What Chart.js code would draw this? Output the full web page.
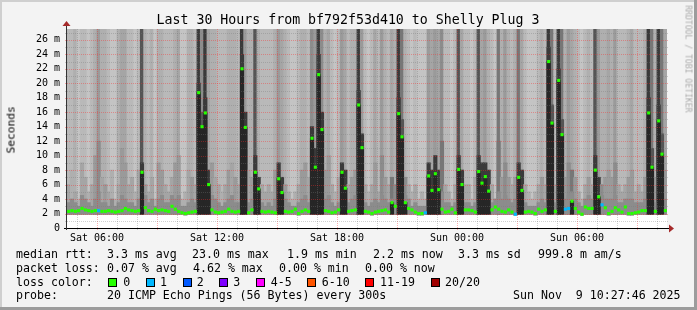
<!DOCTYPE html>
<html><head><meta charset="utf-8">
<script src="https://cdn.jsdelivr.net/npm/chart.js@4/dist/chart.umd.min.js"></script>
<style>
html,body{margin:0;padding:0;background:#f3f3f3;}
#wrap{position:relative;width:697px;height:310px;overflow:hidden;font-family:'DejaVu Sans Mono',monospace;color:#000;}
#c{position:absolute;left:0;top:0;}
.t{position:absolute;white-space:pre;line-height:13px;font-size:11.6px;color:#000;}
.box{position:absolute;width:7px;height:7px;border:1px solid #000;}
</style></head><body>
<div id="wrap"><canvas id="c" width="697" height="310"></canvas></div>
<script>
// ---------------- data ----------------
// 180 bins of 10 minutes, starting Sat 04:30 (30 hours)
const median = [
2.3,2.4,2.3,2.4,2.7,2.5,2.4,2.3,2.4,2.4,2.3,2.3,2.4,2.3,2.2,2.3,2.4,2.7,2.5,2.4,2.3,2.4,7.7,2.8,2.4,2.3,2.6,2.4,2.5,2.4,
2.3,3.0,2.6,2.3,2.1,2.0,2.1,2.2,2.3,18.7,14.0,15.9,6.0,2.5,2.2,2.1,2.2,2.3,2.6,2.3,2.2,2.3,22.0,13.9,2.1,2.5,7.7,5.4,2.3,2.2,
2.3,2.2,2.1,6.8,4.9,2.3,2.2,2.3,2.6,2.0,2.3,2.5,2.3,12.4,8.4,21.2,13.6,2.4,2.3,2.1,2.2,2.5,7.7,5.5,2.3,2.4,2.5,17.0,11.1,2.3,
2.2,2.0,2.2,2.3,2.4,2.5,2.2,3.5,3.0,15.8,12.6,3.5,2.7,2.5,2.2,2.0,2.0,2.1,7.2,5.2,7.5,5.3,2.6,2.2,2.3,2.6,2.1,8.1,6.0,2.5,
2.5,2.4,2.2,7.8,6.2,7.1,5.1,2.5,2.9,2.6,2.3,2.2,2.5,2.2,1.9,7.0,5.2,2.2,2.3,2.2,2.0,2.6,2.3,2.5,23.0,14.5,2.3,20.4,12.9,2.6,
2.7,3.7,2.7,2.2,1.9,2.9,2.7,2.7,8.0,4.3,3.2,2.8,2.0,2.3,2.8,2.5,2.2,2.9,2.0,2.0,2.1,2.2,2.4,2.4,15.9,8.4,2.3,14.8,10.2,2.4];
const minPing = [
1.9,1.9,1.9,1.9,1.9,1.9,1.9,1.9,1.9,1.9,1.9,1.9,1.9,1.9,1.9,1.9,1.9,1.9,1.9,1.9,1.9,1.9,1.9,1.9,1.9,1.9,1.9,1.9,1.9,1.9,
1.9,1.9,1.9,1.9,1.9,1.8,1.9,1.9,1.9,1.9,1.9,1.9,1.9,1.9,1.9,1.9,1.9,1.9,1.9,1.9,1.9,1.9,1.9,1.9,1.9,1.9,1.9,1.9,1.9,1.9,
1.9,1.9,1.9,1.9,1.9,1.9,1.9,1.9,1.9,1.8,1.9,1.9,1.9,1.9,1.9,1.9,1.9,1.9,1.9,1.9,1.9,1.9,1.9,1.9,1.9,1.9,1.9,1.9,1.9,1.9,
1.9,1.8,1.9,1.9,1.9,1.9,1.9,1.9,1.9,1.9,1.9,1.9,1.9,1.9,1.9,1.8,1.8,1.9,1.9,1.9,1.9,1.9,1.9,1.9,1.9,1.9,1.9,1.9,1.9,1.9,
1.9,1.9,1.9,1.9,1.9,1.9,1.9,1.9,1.9,1.9,1.9,1.9,1.9,1.9,1.8,1.9,1.9,1.9,1.9,1.9,1.8,1.9,1.9,1.9,1.9,1.9,1.9,1.9,1.9,1.9,
1.9,1.9,1.9,1.9,1.8,1.9,1.9,1.9,1.9,1.9,1.9,1.9,1.8,1.9,1.9,1.9,1.9,1.9,1.8,1.8,1.9,1.9,1.9,1.9,1.9,1.9,1.9,1.9,1.9,1.9];
// pings-above-top level (0 light .. 10 darkest)
const topShade = [
2,2,3,1,2,2,1,2,3,5,3,3,2,1,1,3,4,4,2,2,1,2,8,3,2,3,1,3,3,2,
2,2,3,4,1,1,3,3,2,9,6,9,4,3,3,2,2,2,3,3,3,2,9,5,3,3,8,3,2,2,
2,2,3,5,4,3,2,1,1,2,3,3,2,6,5,9,6,3,4,2,1,2,5,4,2,3,3,9,5,2,
1,2,4,2,5,3,2,4,3,9,7,3,2,1,2,1,1,1,5,4,5,4,6,2,2,1,2,8,4,2,
2,1,2,8,4,5,3,2,1,7,3,5,3,2,3,7,4,2,1,1,1,2,3,2,9,7,2,9,7,3,
5,4,3,2,1,2,3,2,8,5,3,3,4,3,5,2,2,2,3,4,2,2,2,3,9,7,3,9,7,4];
const midTop = [
6,8,5,4,9,7,5,6,10,12,7,6,5,8,4,6,11,9,6,7,5,8,9,6,5,7,4,9,8,6,
5,7,9,10,4,5,8,7,6,20,16,18,8,9,7,6,5,6,8,9,7,6,24,16,8,7,10,7,6,5,
6,5,8,9,7,6,5,4,5,6,8,9,7,14,11,24,16,8,10,6,5,7,9,8,6,7,8,19,13,6,
5,6,9,5,10,7,6,7,6,18,15,7,6,5,6,4,5,4,9,8,10,8,12,6,5,4,6,10,8,6,
6,4,7,10,9,9,8,6,4,12,7,9,7,6,7,9,8,6,5,4,5,6,7,6,25,17,6,22,15,7,
9,8,7,5,4,6,7,6,10,7,6,7,8,7,9,6,5,6,7,8,5,6,5,7,18,11,7,17,13,8];
const midShade = [
4,3,4,3,4,4,3,4,5,6,4,5,4,3,3,4,5,5,4,4,3,4,9,5,4,4,3,5,5,4,
4,4,5,5,3,3,4,5,4,9,8,9,9,5,4,4,3,4,5,4,5,4,9,9,4,5,9,9,4,4,
4,4,5,9,9,5,4,3,3,4,5,5,4,9,9,9,9,5,5,4,3,4,9,9,4,5,5,9,9,4,
3,4,5,4,6,5,4,7,6,9,8,6,4,3,4,3,3,3,9,9,9,9,7,4,4,3,4,9,9,4,
4,3,4,9,9,9,9,4,3,7,5,6,5,4,5,9,9,4,3,3,3,4,5,4,9,8,4,9,8,5,
6,7,5,4,3,4,5,4,9,9,6,5,5,5,6,4,4,4,5,5,4,4,4,5,9,8,5,9,8,5];
const lowTop = [
3.5,4,3.5,3,4.5,4,3.5,3,4,5,3.5,3.5,3,4,3,3.5,4.5,4,3.5,3.5,3,4,4,4.5,3.5,4,3,4,4.5,3.5,
3.5,4.5,4,4.5,3,3,3.5,4,3.5,4,4,4,4,4.5,4,3.5,3,3.5,4,4.5,3.5,3.5,4,4,3.5,4,4,4,3.5,3,
3.5,3,4,4,4,4,3.5,3,3,3.5,4,4.5,3.5,4,4,4,4,4,4.5,3.5,3,3.5,4,4,3.5,4,4.5,4,4,3.5,
3,3.5,4,3.5,4.5,4,3.5,4,4,4,4,4.5,4,3,3.5,3,3,3,4,4,4,4,5,3.5,3.5,3,3.5,4,4,3.5,
3.5,3,3.5,4,4,4,4,3.5,4,5,4,4.5,4,3.5,4,4,4,3.5,3,3,3,3.5,4,3.5,4,4,3.5,4,4,4,
4.5,5,4,3.5,3,4,4.5,4,4,4.5,4.5,4,4,4,4.5,3.5,3.5,4,4,4,3.5,3.5,3.5,4,4,4,3.5,4,4,4];
const lossOneBins = [9, 107, 134, 149, 150, 160];
const tickMinutes = [90, 450, 810, 1170, 1530];
const timeLabels = ['Sat 06:00','Sat 12:00','Sat 18:00','Sun 00:00','Sun 06:00'];
const yTicks = [0,2,4,6,8,10,12,14,16,18,20,22,24,26];
const titleText = 'Last 30 Hours from bf792f53d410 to Shelly Plug 3';
const rttStats = ['median rtt:','3.3 ms avg','23.0 ms max','1.9 ms min','2.2 ms now','3.3 ms sd','999.8 m am/s'];
const lossStats = ['packet loss:','0.07 % avg','4.62 % max','0.00 % min','0.00 % now'];
const lossLegend = [['0','#26ff00'],['1','#00b8ff'],['2','#0059ff'],['3','#7e00ff'],['4-5','#ff00ff'],['6-10','#ff5500'],['11-19','#ff0000'],['20/20','#a00000']];
const probeRow = ['probe:','20 ICMP Echo Pings (56 Bytes) every 300s','Sun Nov  9 10:27:46 2025'];

// ---------------- style / layout ----------------
const palette = ['#cecece','#c4c4c4','#b9b9b9','#afafaf','#a5a5a5','#9a9a9a','#8c8c8c','#777777','#555555','#3a3a3a','#262626'];
const yMax = 27.5, xMax = 1800;
const FONT = "'DejaVu Sans Mono', monospace";

const wrap = document.getElementById('wrap');
function addText(txt, x, y, extra) {
  const d = document.createElement('div');
  d.className = 't'; d.textContent = txt;
  d.style.left = x + 'px'; d.style.top = y + 'px';
  if (extra) Object.assign(d.style, extra);
  wrap.appendChild(d); return d;
}
addText(titleText, 348, 19, {fontSize:'13.25px', transform:'translate(-50%,-50%)'});
addText('Seconds', 5, 120.5, {fontSize:'11.2px', transformOrigin:'50% 50%', transform:'rotate(-90deg)', width:'52px', height:'13px', marginLeft:'-20px'});
addText('RRDTOOL / TOBI OETIKER', 688, 59, {fontSize:'8.1px', color:'#ababab', transform:'translate(-50%,-50%) rotate(90deg)'});
const rowY = [248, 261.5, 275.5, 289];
const rttX = [16, 107, 192, 287, 373, 458, 538];
rttStats.forEach((s,i)=>addText(s, rttX[i], rowY[0]));
const lossX = [16, 107, 193, 279, 365];
lossStats.forEach((s,i)=>addText(s, lossX[i], rowY[1]));
addText('loss color:', 16, rowY[2]);
const boxX = [108, 145.5, 182.5, 219, 256, 307, 365, 430.5];
const boxTxtX = [123.3, 160, 196.7, 233.3, 270.7, 321.7, 380, 445];
lossLegend.forEach(([lab,col],i)=>{
  const b = document.createElement('div'); b.className='box';
  b.style.left = boxX[i]+'px'; b.style.top = '278px'; b.style.background = col;
  wrap.appendChild(b);
  addText(lab, boxTxtX[i], rowY[2]);
});
const probeX = [16, 107, 513];
probeRow.forEach((s,i)=>addText(s, probeX[i], rowY[3]));

// ---------------- chart ----------------
const xs = median.map((_, i) => i * 10 + 5);
const barOpts = {grouped:false, barPercentage:1, categoryPercentage:1, borderWidth:0, inflateAmount:0.4};
const medianColors = median.map((_, i) => lossOneBins.includes(i) ? lossLegend[1][1] : lossLegend[0][1]);

const frame = {
  id: 'frame',
  beforeDraw(chart) {
    const {ctx, chartArea:a} = chart;
    ctx.save();
    ctx.fillStyle = '#f3f3f3'; ctx.fillRect(0,0,697,310);
    ctx.fillStyle = '#cfcfcf'; ctx.fillRect(0,0,697,2); ctx.fillRect(0,0,2,310);
    ctx.fillStyle = '#9c9c9c'; ctx.fillRect(0,307,697,3); ctx.fillRect(694,0,3,310);
    ctx.fillStyle = '#ffffff'; ctx.fillRect(a.left, a.top, a.right-a.left, a.bottom-a.top);
    ctx.restore();
  },
  afterDatasetDraw(chart, args) {
    if (args.index !== 3) return;
    const {ctx, chartArea:a, scales:{x, y}} = chart;
    ctx.save();
    ctx.lineWidth = 1; ctx.setLineDash([1,1]);
    for (let m = 30; m < xMax; m += 60) {
      const px = Math.round(x.getPixelForValue(m)) + 0.5;
      ctx.strokeStyle = ((m - 90) % 180 === 0) ? 'rgba(255,40,40,0.38)' : 'rgba(120,120,120,0.35)';
      ctx.beginPath(); ctx.moveTo(px, a.top); ctx.lineTo(px, a.bottom + 2); ctx.stroke();
    }
    for (let v = 1; v <= 27; v++) {
      const py = Math.round(y.getPixelForValue(v)) + 0.5;
      ctx.strokeStyle = (v % 2 === 0) ? 'rgba(255,40,40,0.38)' : 'rgba(120,120,120,0.35)';
      ctx.beginPath(); ctx.moveTo(a.left - 2, py); ctx.lineTo(a.right + 2, py); ctx.stroke();
    }
    ctx.restore();
  },
  afterDraw(chart) {
    const {ctx, chartArea:a} = chart;
    ctx.save();
    ctx.strokeStyle = '#000'; ctx.lineWidth = 1;
    ctx.beginPath(); ctx.moveTo(a.left - 3, a.bottom + 0.5); ctx.lineTo(a.right + 3, a.bottom + 0.5); ctx.stroke();
    ctx.strokeStyle = '#333';
    ctx.beginPath(); ctx.moveTo(a.left - 0.5, a.bottom + 2); ctx.lineTo(a.left - 0.5, a.top - 4); ctx.stroke();
    ctx.fillStyle = '#a52a2a';
    ctx.beginPath(); ctx.moveTo(a.right + 2, a.bottom - 3.5); ctx.lineTo(a.right + 7, a.bottom + 0.5); ctx.lineTo(a.right + 2, a.bottom + 4.5); ctx.closePath(); ctx.fill();
    ctx.beginPath(); ctx.moveTo(a.left - 4.5, a.top - 3); ctx.lineTo(a.left - 0.5, a.top - 8); ctx.lineTo(a.left + 3.5, a.top - 3); ctx.closePath(); ctx.fill();
    ctx.restore();
  }
};

new Chart(document.getElementById('c'), {
  type: 'bar',
  data: {
    datasets: [
      {type:'bar', label:'smoke outer', order:5, ...barOpts,
       data: xs.map((xv,i)=>({x:xv, y:[minPing[i], yMax]})), backgroundColor: topShade.map(k=>palette[k])},
      {type:'bar', label:'smoke mid', order:4, ...barOpts,
       data: xs.map((xv,i)=>({x:xv, y:[minPing[i], midTop[i]]})), backgroundColor: midShade.map(k=>palette[k])},
      {type:'bar', label:'smoke low', order:3, ...barOpts,
       data: xs.map((xv,i)=>({x:xv, y:[minPing[i], lowTop[i]]})), backgroundColor: '#8c8c8c'},
      {type:'bar', label:'smoke core', order:2, ...barOpts,
       data: xs.map((xv,i)=>({x:xv, y: median[i] >= 3.4 ? [minPing[i], median[i]] : null})), backgroundColor: palette[10]},
      {type:'line', label:'median rtt', order:1, showLine:false, pointStyle:'rect', pointRadius:2.2,
       pointBorderWidth:0, pointBackgroundColor: medianColors,
       data: xs.map((xv,i)=>({x:xv, y:median[i]}))}
    ]
  },
  options: {
    responsive:false, animation:false, devicePixelRatio:1, events:[],
    layout: {padding: {left:0, right:30, top:29, bottom:62}},
    plugins: {legend:{display:false}, tooltip:{enabled:false}, title:{display:false}},
    scales: {
      x: {type:'linear', min:0, max:xMax, offset:false,
          grid:{display:false, drawTicks:false}, border:{display:false},
          afterFit(s){ s.height = 20; },
          afterBuildTicks(s){ s.ticks = tickMinutes.map(v=>({value:v})); },
          ticks:{autoSkip:false, maxRotation:0, padding:4, color:'#000',
                 font:{family:FONT, size:10}, callback:(v,i)=>timeLabels[i]}},
      y: {type:'linear', min:0, max:yMax,
          grid:{display:false, drawTicks:false}, border:{display:false},
          afterFit(s){ s.width = 67; },
          afterBuildTicks(s){ s.ticks = yTicks.map(v=>({value:v})); },
          ticks:{padding:7, color:'#000', font:{family:FONT, size:10},
                 callback:(v)=> v === 0 ? '0' : v + ' m'}}
    }
  },
  plugins:[frame]
});
</script>
</body></html>
